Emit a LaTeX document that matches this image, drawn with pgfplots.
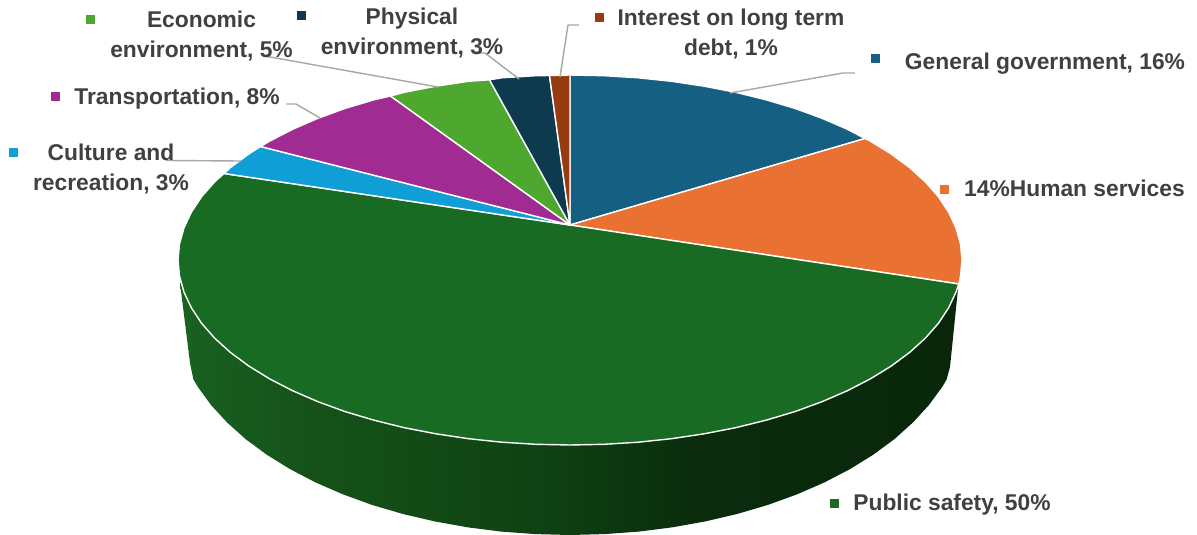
\documentclass[border=0pt]{standalone}
\usepackage{fontspec}
\setmainfont{Liberation Sans}
\usepackage{pgfplots}
\pgfplotsset{compat=1.18}
\definecolor{cGeneral}{HTML}{156082}
\definecolor{cHuman}{HTML}{E97132}
\definecolor{cSafety}{HTML}{196B24}
\definecolor{cCulture}{HTML}{0F9ED5}
\definecolor{cTransport}{HTML}{A02B93}
\definecolor{cEconomic}{HTML}{4EA72E}
\definecolor{cPhysical}{HTML}{0D3A4E}
\definecolor{cInterest}{HTML}{963C10}
\definecolor{cLabel}{HTML}{404040}
\definecolor{cLeader}{HTML}{A6A6A6}
% side wall of the disc, lit from the left
\pgfdeclarehorizontalshading{wallshade}{100bp}{
  rgb(0bp)=(0.102,0.380,0.133);
  rgb(25bp)=(0.102,0.380,0.133);
  rgb(33bp)=(0.082,0.322,0.098);
  rgb(43bp)=(0.067,0.282,0.082);
  rgb(50bp)=(0.055,0.243,0.071);
  rgb(58bp)=(0.039,0.173,0.051);
  rgb(75bp)=(0.035,0.149,0.043);
  rgb(100bp)=(0.035,0.149,0.043)}
\newcommand{\lab}[3]{\node[align=center,text=cLabel,font=\fontsize{22.8}{30}\selectfont\bfseries,inner sep=0pt,anchor=center] at (axis cs:#1,#2) {#3};}
\begin{document}
\begin{tikzpicture}
\begin{axis}[
  scale only axis, width=1197pt, height=535pt,
  xmin=0, xmax=1197, ymin=0, ymax=535, y dir=reverse,
  hide axis, clip=false,
  every axis plot/.append style={line join=round}]

% keeps the full plotting frame in the page
\addplot[draw=none, mark=none] coordinates {(0,0) (1197,535)};

% side wall
\addplot[shade, shading=wallshade, draw=none, mark=none] coordinates {
 (958.5,284) (950,367) (946.6,379.5) (942.1,387) (928.9,405.1) (912.9,422.5) (894.4,439.1)
 (873.4,454.6) (850,469.1) (824.5,482.4) (797.1,494.3) (768,504.9) (737.4,513.9)
 (705.4,521.4) (672.5,527.3) (638.8,531.6) (604.5,534.1) (570,535) (535.5,534.1)
 (501.2,531.6) (467.5,527.3) (434.6,521.4) (402.6,513.9) (372,504.9) (342.9,494.3)
 (315.5,482.4) (290,469.1) (266.6,454.6) (245.6,439.1) (227.1,422.5) (211.1,405.1)
 (197.9,387) (193.4,379.5) (190,363)
 (180,283) (570,260)} --cycle;

% General government
\addplot[fill=cGeneral, draw=white, line width=1.4pt, mark=none] coordinates {
 (570,225) (570,75) (604.2,75.7) (638.1,77.8) (671.5,81.3) (704.1,86.2) (735.7,92.3)
 (766,99.8) (794.9,108.4) (822,118.3) (847.2,129.2) (865,138.5)} --cycle;
% Human services
\addplot[fill=cHuman, draw=white, line width=1.4pt, mark=none] coordinates {
 (570,225) (865,138.5) (870.3,141.1) (891.1,153.9) (909.5,167.5) (925.3,181.8) (938.4,196.7)
 (948.6,212.1) (956,227.9) (960.5,243.9) (962,260) (960.5,276.1) (958.8,284)} --cycle;
% Public safety
\addplot[fill=cSafety, draw=white, line width=1.4pt, mark=none] coordinates {
 (570,225) (958.8,284) (956,292.1) (948.6,307.9) (938.4,323.3) (925.3,338.2) (909.5,352.5)
 (891.1,366.1) (870.3,378.9) (847.2,390.8) (822,401.7) (794.9,411.6) (766,420.2)
 (735.7,427.7) (704.1,433.8) (671.5,438.7) (638.1,442.2) (604.2,444.3) (570,445)
 (535.8,444.3) (501.9,442.2) (468.5,438.7) (435.9,433.8) (404.3,427.7) (374,420.2)
 (345.1,411.6) (318,401.7) (292.8,390.8) (269.7,378.9) (248.9,366.1) (230.5,352.5)
 (214.7,338.2) (201.6,323.3) (191.4,307.9) (184,292.1) (179.5,276.1) (178,260)
 (179.5,243.9) (184,227.9) (191.4,212.1) (201.6,196.7) (214.7,181.8) (224,173.5)} --cycle;
% Culture and recreation
\addplot[fill=cCulture, draw=white, line width=1.4pt, mark=none] coordinates {
 (570,225) (224,173.5) (230.5,167.5) (248.9,153.9) (260.5,146.5)} --cycle;
% Transportation
\addplot[fill=cTransport, draw=white, line width=1.4pt, mark=none] coordinates {
 (570,225) (260.5,146.5) (269.7,141.1) (292.8,129.2) (318,118.3) (345.1,108.4) (374,99.8) (390.5,96)} --cycle;
% Economic environment
\addplot[fill=cEconomic, draw=white, line width=1.4pt, mark=none] coordinates {
 (570,225) (390.5,96) (404.3,92.3) (435.9,86.2) (468.5,81.3) (489.5,79.8)} --cycle;
% Physical environment
\addplot[fill=cPhysical, draw=white, line width=1.4pt, mark=none] coordinates {
 (570,225) (489.5,79.8) (501.9,77.8) (535.8,75.7) (549.5,75.5)} --cycle;
% Interest on long term debt
\addplot[fill=cInterest, draw=white, line width=1.4pt, mark=none] coordinates {
 (570,225) (549.5,75.5) (570,75)} --cycle;

% leader lines
\addplot[cLeader, line width=1.4pt, mark=none] coordinates {(263,56) (270,57) (438,87)};
\addplot[cLeader, line width=1.4pt, mark=none] coordinates {(286,104) (296,104) (320,118)};
\addplot[cLeader, line width=1.4pt, mark=none] coordinates {(166,160.5) (241,161)};
\addplot[cLeader, line width=1.4pt, mark=none] coordinates {(475,53) (485,53) (519,79)};
\addplot[cLeader, line width=1.4pt, mark=none] coordinates {(579,25) (568,25) (560,77)};
\addplot[cLeader, line width=1.4pt, mark=none] coordinates {(855,73) (843,73) (730,93)};

% label keys
\addplot[only marks, mark=square*, mark size=4pt, color=cEconomic] coordinates {(90,19.5)};
\addplot[only marks, mark=square*, mark size=4pt, color=cPhysical] coordinates {(300.7,15.7)};
\addplot[only marks, mark=square*, mark size=4pt, color=cTransport] coordinates {(55,95.7)};
\addplot[only marks, mark=square*, mark size=4pt, color=cCulture] coordinates {(13,152)};
\addplot[only marks, mark=square*, mark size=4pt, color=cInterest] coordinates {(598.7,17.7)};
\addplot[only marks, mark=square*, mark size=4pt, color=cGeneral] coordinates {(874.7,58.3)};
\addplot[only marks, mark=square*, mark size=4pt, color=cHuman] coordinates {(944.3,188.7)};
\addplot[only marks, mark=square*, mark size=4pt, color=cSafety] coordinates {(833.7,503)};

% labels
\lab{201.5}{36.5}{Economic\\environment, 5\%}
\lab{412}{33.5}{Physical\\environment, 3\%}
\lab{177}{98.5}{Transportation, 8\%}
\lab{111}{169}{Culture and\\recreation, 3\%}
\lab{731}{34}{Interest on long term\\debt, 1\%}
\lab{1045}{64}{General government, 16\%}
\lab{1074.5}{188}{14\%Human services}
\lab{952}{505}{Public safety, 50\%}
\end{axis}
\end{tikzpicture}
\end{document}
